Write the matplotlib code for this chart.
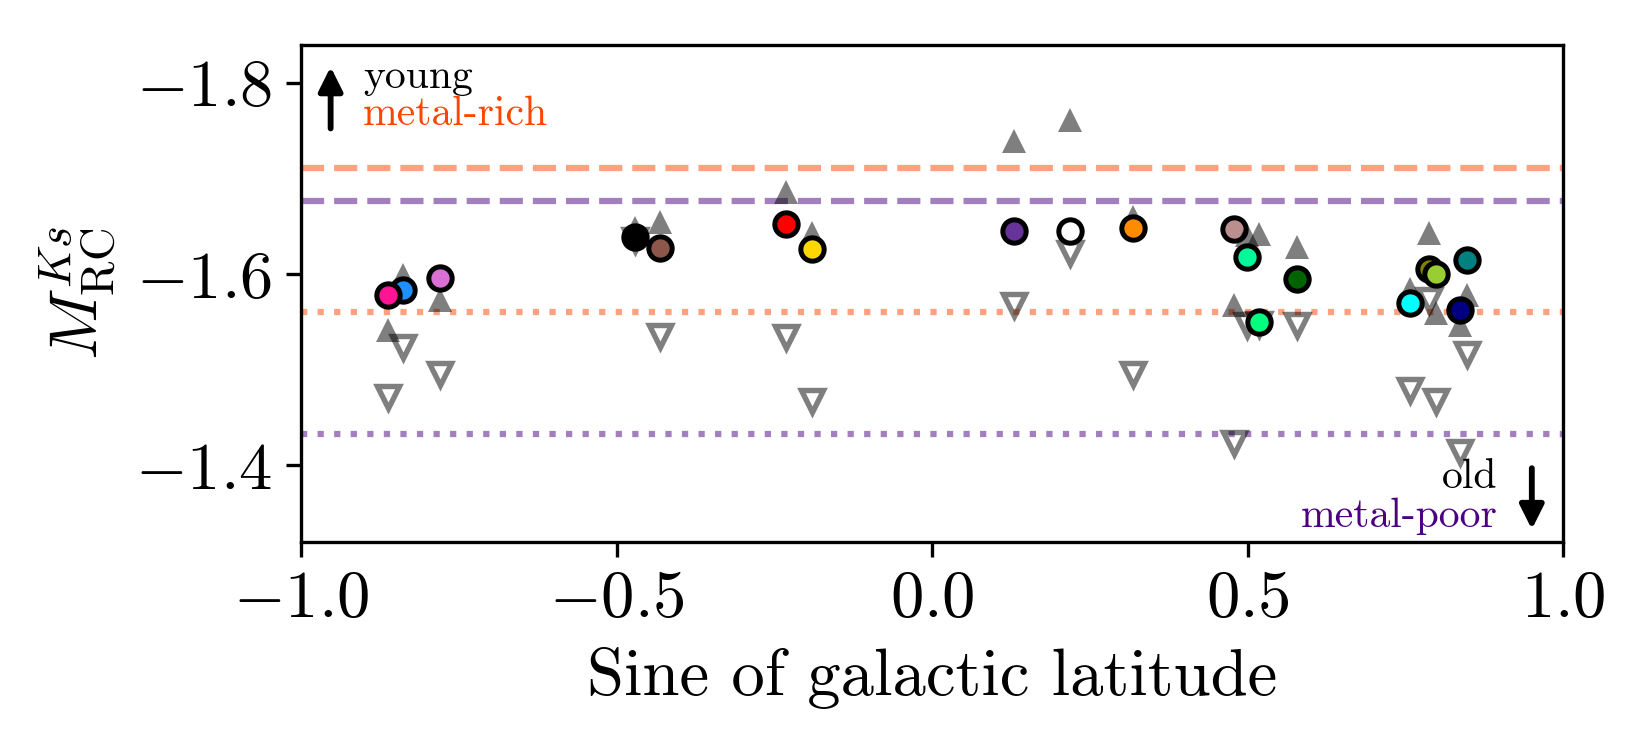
"""
Red clump absolute magnitude vs. sine of galactic latitude
"""
import matplotlib
matplotlib.use('Agg')
import matplotlib.pyplot as plt

plt.rcParams['font.family'] = 'serif'
plt.rcParams['font.serif'] = ['cmr10']
plt.rcParams['mathtext.fontset'] = 'cm'
plt.rcParams['axes.formatter.use_mathtext'] = True
plt.rcParams['axes.unicode_minus'] = True

# data (one entry per field)
colors = ['dodgerblue', 'deeppink', 'orchid', 'black', 'tab:brown', 'red', 'gold',
          'rebeccapurple', 'white', 'darkorange', 'rosybrown', 'mediumspringgreen',
          'springgreen', 'darkgreen', 'cyan', 'olive', 'yellowgreen', 'teal', 'navy']
sinb = [-0.839, -0.862, -0.780, -0.470, -0.431, -0.232, -0.190,
        0.129, 0.219, 0.318, 0.478, 0.499,
        0.518, 0.578, 0.757, 0.787, 0.798, 0.848, 0.836]
m_rc = [-1.583, -1.578, -1.596, -1.639, -1.628, -1.653, -1.626,
        -1.645, -1.645, -1.648, -1.647, -1.618,
        -1.550, -1.595, -1.570, -1.606, -1.600, -1.615, -1.563]
m_young = [-1.599, -1.542, -1.573, -1.648, -1.655, -1.686, -1.643,
           -1.739, -1.762, -1.660, -1.568, -1.641,
           -1.642, -1.629, -1.585, -1.643, -1.559, -1.578, -1.547]
m_old = [-1.524, -1.472, -1.496, -1.636, -1.535, -1.534, -1.467,
         -1.568, -1.622, -1.496, -1.423, -1.547,
         -1.548, -1.547, -1.479, -1.573, -1.467, -1.517, -1.414]

# model reference levels
young_rich = -1.711
young_poor = -1.677
old_rich = -1.561
old_poor = -1.433

fig = plt.figure(figsize=(5.5, 2.5), dpi=300)
ax = fig.add_axes([0.1824, 0.2777, 0.7651, 0.6623])

ax.axhline(young_rich, color='orangered', alpha=0.5, ls='--', lw=1.5)
ax.axhline(young_poor, color='indigo', alpha=0.5, ls='--', lw=1.5)
ax.axhline(old_rich, color='orangered', alpha=0.5, ls=':', lw=1.5)
ax.axhline(old_poor, color='indigo', alpha=0.5, ls=':', lw=1.5)

for c, x, y, yu, yd in zip(colors, sinb, m_rc, m_young, m_old):
    ax.plot(x, yu, '^', color='k', alpha=0.5, ms=5.8, mew=0)
    ax.plot(x, yd, 'v', mfc='none', mec='k', alpha=0.5, ms=5.4, mew=1.3)
    ax.plot(x, y, 'o', mfc=c, mec='k', ms=5.6, mew=1.2)

# arrows and labels
arrow_kw = dict(arrowstyle='-|>', color='k', lw=1.4, mutation_scale=12,
                shrinkA=0, shrinkB=0)
ax.annotate('', xy=(0.0235, 0.956), xytext=(0.0235, 0.832), xycoords='axes fraction',
            arrowprops=arrow_kw)
ax.text(0.049, 0.913, 'young', transform=ax.transAxes, fontsize=10, va='baseline')
ax.text(0.049, 0.839, 'metal-rich', transform=ax.transAxes, fontsize=10, va='baseline',
        color='orangered')
ax.annotate('', xy=(0.975, 0.025), xytext=(0.975, 0.148), xycoords='axes fraction',
            arrowprops=arrow_kw)
ax.text(0.948, 0.108, 'old', transform=ax.transAxes, fontsize=10, va='baseline', ha='right')
ax.text(0.948, 0.030, 'metal-poor', transform=ax.transAxes, fontsize=10, va='baseline',
        ha='right', color='indigo')

ax.set_xlim(-1, 1)
ax.set_ylim(-1.32, -1.84)
ax.set_xticks([-1.0, -0.5, 0.0, 0.5, 1.0])
ax.set_yticks([-1.8, -1.6, -1.4])
ax.tick_params(labelsize=16)
ax.set_xlabel('Sine of galactic latitude', fontsize=16)
ax.set_ylabel(r'$M_{\rm RC}^{Ks}$', fontsize=16)

fig.savefig('out.png', dpi=300)
